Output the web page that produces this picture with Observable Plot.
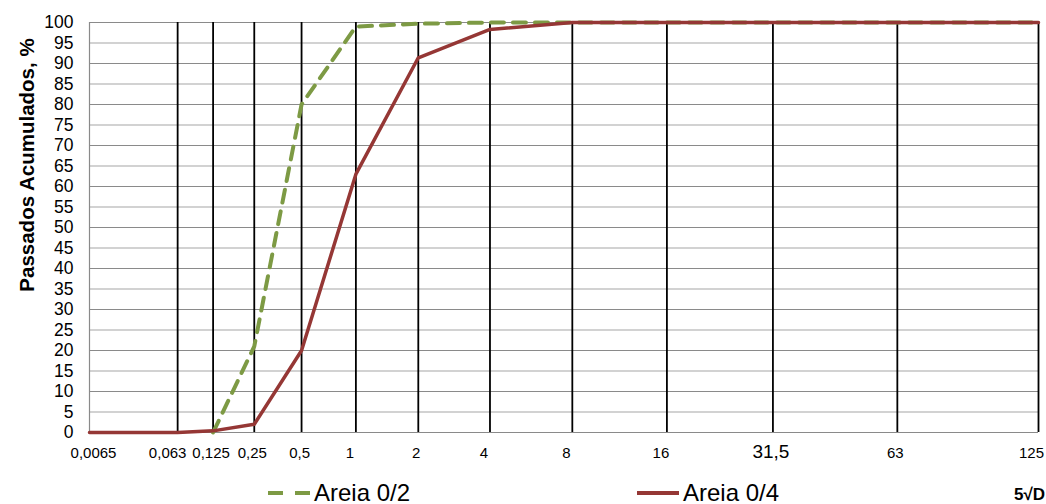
<!DOCTYPE html>
<html>
<head>
<meta charset="utf-8">
<script src="https://cdn.jsdelivr.net/npm/d3@7"></script>
<script src="https://cdn.jsdelivr.net/npm/@observablehq/plot@0.6"></script>
<style>
  html, body { margin: 0; padding: 0; overflow: hidden; background: #fff; }
  #wrap { position: relative; width: 1046px; height: 504px; font-family: "Liberation Sans", Arial, sans-serif; }
  #wrap > svg { position: absolute; left: 0; top: 0; }
  .leg { position: absolute; display: flex; align-items: center; font-size: 24px; line-height: 24px; color: #000; white-space: nowrap; }
  .leg svg { margin-right: 3px; }
  #xlab { position: absolute; font-weight: bold; font-size: 17px; line-height: 17px; }
  #ylab { position: absolute; left: 26px; top: 165px; font-weight: bold; font-size: 20.5px; line-height: 21px; white-space: nowrap; transform: translate(-50%, -50%) rotate(-90deg); }
</style>
</head>
<body>
<div id="wrap"></div>
<script>
// Sieve sizes (mm) and cumulative passing (%)
const sieveSizes = [0.0065, 0.063, 0.125, 0.25, 0.5, 1, 2, 4, 8, 16, 31.5, 63, 125];
const areia02 = [null, null, 0, 21, 80, 99, 99.7, 100, 100, 100, 100, 100, 100];
const areia04 = [0, 0, 0.4, 2, 20, 63, 91.4, 98.3, 100, 100, 100, 100, 100];
const yTicks = [0, 5, 10, 15, 20, 25, 30, 35, 40, 45, 50, 55, 60, 65, 70, 75, 80, 85, 90, 95, 100];
const seriesNames = ["Areia 0/2", "Areia 0/4"];
const yLabel = "Passados Acumulados, %";
const xLabel = "5\u221AD";

const green = "#7d9a44";
const red = "#953735";

const rows02 = sieveSizes.map((s, i) => ({size: s, v: areia02[i]}));
const rows04 = sieveSizes.map((s, i) => ({size: s, v: areia04[i]}));
const yMinor = yTicks.filter(t => t % 10 !== 0);
const yMajor = yTicks.filter(t => t % 10 === 0 && t !== 0 && t !== 100);

// small label nudges, as in the original layout
const labelShift = s => s === 0.0065 ? 4 : s === 0.063 ? -10 : s === 125 ? -7 : (s === 1 || s === 4 || s === 8 || s === 16) ? -6 : -2;

const xLabelMarks = sieveSizes.map(s => Plot.text([s], {
  x: d => d,
  text: d => String(d).replace(".", ","),
  frameAnchor: "bottom",
  dy: 25.5,
  dx: labelShift(s),
  fontSize: s === 31.5 ? 19 : 15,
  fill: "#000"
}));

const chart = Plot.plot({
  width: 1046,
  height: 475,
  marginLeft: 89,
  marginRight: 8,
  marginTop: 22,
  marginBottom: 43,
  style: {fontFamily: "'Liberation Sans', Arial, sans-serif", background: "#fff", color: "#000"},
  x: {type: "pow", exponent: 0.2, domain: [0.0065, 125], axis: null},
  y: {domain: [0, 100], axis: null},
  marks: [
    Plot.ruleY(yMinor, {stroke: "#c3c3c3", strokeWidth: 1.6}),
    Plot.ruleY(yMajor, {stroke: "#8a8a8a", strokeWidth: 1}),
    Plot.ruleY([0, 100], {stroke: "#8a8a8a", strokeWidth: 1.2}),
    Plot.ruleX([sieveSizes[0]], {stroke: "#8a8a8a", strokeWidth: 1.2}),
    Plot.ruleX(sieveSizes.slice(1), {stroke: "#000", strokeWidth: 1.8}),
    Plot.line(rows02, {x: "size", y: "v", stroke: green, strokeWidth: 4, strokeDasharray: "13,9", defined: d => d.v != null}),
    Plot.line(rows04, {x: "size", y: "v", stroke: red, strokeWidth: 3.5}),
    Plot.text(yTicks, {y: d => d, text: d => String(d), frameAnchor: "left", textAnchor: "end", dx: -16, fontSize: 17.5, fill: "#000"}),
    ...xLabelMarks
  ]
});

const wrap = document.getElementById("wrap");
wrap.appendChild(chart);

const yl = document.createElement("div");
yl.id = "ylab";
yl.textContent = yLabel;
wrap.appendChild(yl);

function legendItem(name, color, dashed, left) {
  const div = document.createElement("div");
  div.className = "leg";
  div.style.left = left + "px";
  div.style.top = "481px";
  div.innerHTML = `<svg width="44" height="10"><line x1="1" y1="5" x2="43" y2="5" stroke="${color}" stroke-width="4" ${dashed ? 'stroke-dasharray="15,12"' : ''}/></svg><span>${name}</span>`;
  wrap.appendChild(div);
}
legendItem(seriesNames[0], green, true, 267);
legendItem(seriesNames[1], red, false, 636);

const xl = document.createElement("div");
xl.id = "xlab";
xl.style.left = "1014px";
xl.style.top = "486px";
xl.textContent = xLabel;
wrap.appendChild(xl);
</script>
</body>
</html>
